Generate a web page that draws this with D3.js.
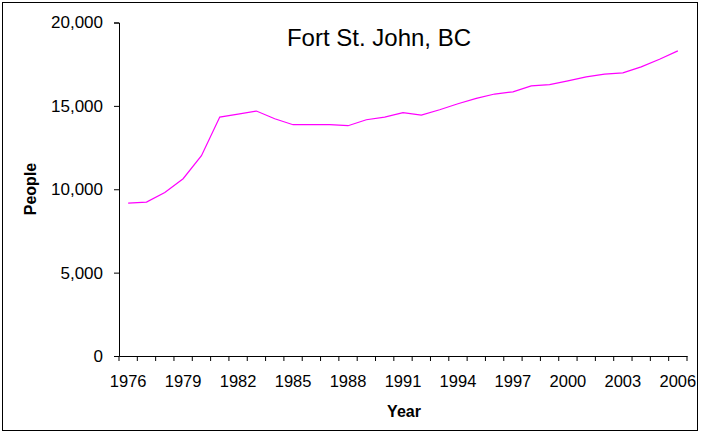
<!DOCTYPE html>
<html>
<head>
<meta charset="utf-8">
<script src="https://cdn.jsdelivr.net/npm/d3@7"></script>
<style>
  body { margin: 0; background: #fff; }
  text { font-family: "Liberation Sans", Arial, sans-serif; fill: #000; }
  .domain { stroke: #000; }
</style>
</head>
<body>
<div id="chart"></div>
<script>
// population
var years = ['1976','1977','1978','1979','1980','1981','1982','1983','1984','1985',
             '1986','1987','1988','1989','1990','1991','1992','1993','1994','1995',
             '1996','1997','1998','1999','2000','2001','2002','2003','2004','2005','2006']
var people = [9170, 9230, 9810, 10630, 12010, 14330, 14510, 14690, 14230, 13870,
              13870, 13870, 13810, 14170, 14330, 14590, 14450, 14770, 15130, 15450,
              15710, 15840, 16200, 16280, 16500, 16740, 16900, 16980, 17340, 17800, 18300]
var yTicks = [0, 5000, 10000, 15000, 20000]
var yearLabels = years.filter(function(d, i) { return i % 3 === 0 })

var svgWidth = 703
var svgHeight = 438
var margin = { top: 22.5, right: 16, bottom: 82, left: 119 }
var width = svgWidth - margin.left - margin.right
var height = svgHeight - margin.top - margin.bottom

var svg = d3.select('#chart')
    .append('svg')
    .attr('width', svgWidth)
    .attr('height', svgHeight)

// outer frame
svg.append('rect')
    .attr('x', 2.5)
    .attr('y', 2.5)
    .attr('width', 695)
    .attr('height', 428)
    .attr('fill', 'none')
    .attr('stroke', '#000')

var chartGroup = svg.append('g')
    .attr('transform', `translate(${margin.left}, ${margin.top})`)

var xScale = d3.scaleBand()
    .domain(years)
    .range([0, width])
    .padding(0)

var yScale = d3.scaleLinear()
    .domain([0, 20000])
    .range([height, 0])

// y axis
var yAxis = d3.axisLeft(yScale)
    .tickValues(yTicks)
    .tickSize(5)
    .tickPadding(11)
    .tickFormat(d3.format(','))

var yg = chartGroup.append('g').call(yAxis)
yg.selectAll('text').style('font-size', '17px')

// x axis: labels at category centres, ticks between categories (Excel style)
var xAxis = d3.axisBottom(xScale)
    .tickValues(yearLabels)
    .tickSize(0)
    .tickSizeOuter(0)
    .tickPadding(19)

var xg = chartGroup.append('g')
    .attr('transform', `translate(0, ${height})`)
    .call(xAxis)
xg.selectAll('text').style('font-size', '16.5px')

var edges = years.map(function(d) { return xScale(d) }).concat([width])
xg.selectAll('.edge')
    .data(edges)
    .enter()
    .append('line')
    .attr('class', 'edge')
    .attr('x1', d => d)
    .attr('x2', d => d)
    .attr('y1', 0)
    .attr('y2', 5)
    .attr('stroke', '#000')

// the line
var line = d3.line()
    .x(function(d, i) { return xScale(years[i]) + xScale.bandwidth() / 2 })
    .y(d => yScale(d))

chartGroup.append('path')
    .datum(people)
    .attr('d', line)
    .attr('fill', 'none')
    .attr('stroke', '#ff00ff')
    .attr('stroke-width', 1.2)

// title and axis labels
svg.append('text')
    .attr('x', 379)
    .attr('y', 46)
    .attr('text-anchor', 'middle')
    .style('font-size', '24px')
    .text('Fort St. John, BC')

svg.append('text')
    .attr('transform', 'translate(36, 189) rotate(-90)')
    .attr('text-anchor', 'middle')
    .style('font-size', '16px')
    .style('font-weight', 'bold')
    .text('People')

svg.append('text')
    .attr('x', 404)
    .attr('y', 417)
    .attr('text-anchor', 'middle')
    .style('font-size', '16px')
    .style('font-weight', 'bold')
    .text('Year')
</script>
</body>
</html>
